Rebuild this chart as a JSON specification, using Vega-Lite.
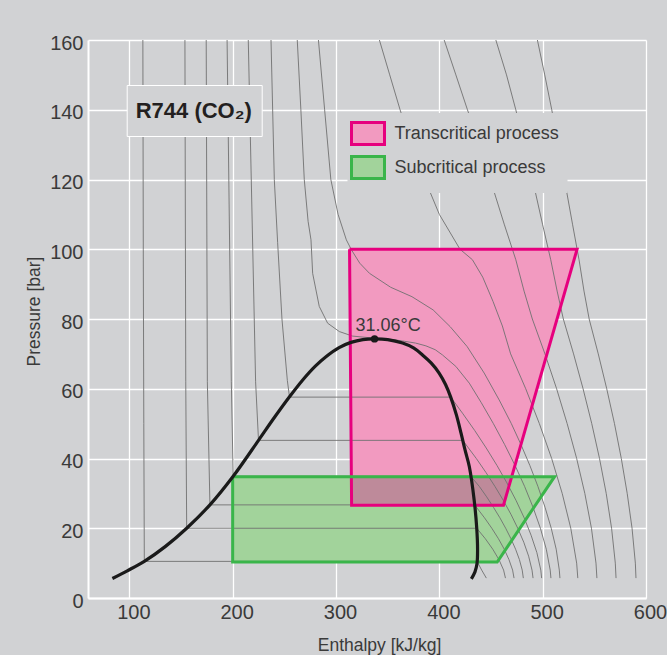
{
  "$schema": "https://vega.github.io/schema/vega-lite/v6.json",
  "width": 558,
  "height": 558,
  "autosize": {"type": "none"},
  "padding": {"left": 88, "top": 40, "right": 21, "bottom": 57},
  "background": "#d1d2d4",
  "config": {
    "view": {"stroke": null},
    "font": "Liberation Sans",
    "axis": {
      "grid": true, "gridColor": "white", "gridWidth": 1.3, "gridOpacity": 1,
      "domainColor": "white", "domainWidth": 2, "ticks": false,
      "labelFont": "Liberation Sans", "labelFontSize": 20, "labelColor": "#3a3a3a",
      "titleFont": "Liberation Sans", "titleFontSize": 17.5, "titleFontWeight": "normal", "titleColor": "#3a3a3a",
      "zindex": 1
    }
  },
  "datasets": {
    "poly": [
      {"proc": "Transcritical process", "i": 0, "h": 313.1, "p": 100},
      {"proc": "Transcritical process", "i": 1, "h": 533.3, "p": 100},
      {"proc": "Transcritical process", "i": 2, "h": 462.1, "p": 26.6},
      {"proc": "Transcritical process", "i": 3, "h": 315.1, "p": 26.6},
      {"proc": "Transcritical process", "i": 4, "h": 313.1, "p": 100},
      {"proc": "Subcritical process", "i": 0, "h": 200, "p": 34.8},
      {"proc": "Subcritical process", "i": 1, "h": 511.5, "p": 34.8},
      {"proc": "Subcritical process", "i": 2, "h": 456, "p": 10.3},
      {"proc": "Subcritical process", "i": 3, "h": 200, "p": 10.3},
      {"proc": "Subcritical process", "i": 4, "h": 200, "p": 34.8}
    ],
    "overlap": [
      {"i": 0, "h": 315.1, "p": 26.6},
      {"i": 1, "h": 462.1, "p": 26.6},
      {"i": 2, "h": 470, "p": 34.8},
      {"i": 3, "h": 314.9, "p": 34.8}
    ],
    "dome": [
      {"i": 0, "h": 83.6, "p": 5.6}, {"i": 1, "h": 98, "p": 7.8}, {"i": 2, "h": 114.5, "p": 10.5},
      {"i": 3, "h": 135, "p": 14.8}, {"i": 4, "h": 155.5, "p": 20}, {"i": 5, "h": 178, "p": 26.7},
      {"i": 6, "h": 200.5, "p": 34.9}, {"i": 7, "h": 225, "p": 45.2}, {"i": 8, "h": 240, "p": 51.6},
      {"i": 9, "h": 255, "p": 57.7}, {"i": 10, "h": 268, "p": 62.6}, {"i": 11, "h": 280, "p": 66.5},
      {"i": 12, "h": 290.3, "p": 69.2}, {"i": 13, "h": 303, "p": 71.8}, {"i": 14, "h": 314.5, "p": 73.3},
      {"i": 15, "h": 326, "p": 74.1}, {"i": 16, "h": 337.3, "p": 74.3}, {"i": 17, "h": 350, "p": 74.1},
      {"i": 18, "h": 364.4, "p": 73.1}, {"i": 19, "h": 375, "p": 71.7}, {"i": 20, "h": 383.7, "p": 69.7},
      {"i": 21, "h": 392, "p": 67.4}, {"i": 22, "h": 399.8, "p": 64.5}, {"i": 23, "h": 406, "p": 61.2},
      {"i": 24, "h": 411, "p": 57.6}, {"i": 25, "h": 416.5, "p": 52.5}, {"i": 26, "h": 421, "p": 47.3},
      {"i": 27, "h": 425, "p": 42.3}, {"i": 28, "h": 429, "p": 37.7}, {"i": 29, "h": 433.7, "p": 28.1},
      {"i": 30, "h": 436.2, "p": 20}, {"i": 31, "h": 437, "p": 14}, {"i": 32, "h": 436.5, "p": 10},
      {"i": 33, "h": 434.5, "p": 7.5}, {"i": 34, "h": 431, "p": 5.5}
    ],
    "iso": [
      {"T": -40, "i": 0, "h": 113.1, "p": 160}, {"T": -40, "i": 1, "h": 113.5, "p": 100}, {"T": -40, "i": 2, "h": 114, "p": 50},
      {"T": -40, "i": 3, "h": 114.5, "p": 10.5}, {"T": -40, "i": 4, "h": 436.5, "p": 10.5}, {"T": -40, "i": 5, "h": 441, "p": 8},
      {"T": -40, "i": 6, "h": 445.5, "p": 5.7},

      {"T": -20, "i": 0, "h": 153.8, "p": 160}, {"T": -20, "i": 1, "h": 154.6, "p": 62}, {"T": -20, "i": 2, "h": 155.5, "p": 20},
      {"T": -20, "i": 3, "h": 436.2, "p": 20}, {"T": -20, "i": 4, "h": 444.5, "p": 17}, {"T": -20, "i": 5, "h": 451.7, "p": 14},
      {"T": -20, "i": 6, "h": 457.7, "p": 11}, {"T": -20, "i": 7, "h": 462.2, "p": 8}, {"T": -20, "i": 8, "h": 464, "p": 5.7},

      {"T": -10, "i": 0, "h": 174.4, "p": 160}, {"T": -10, "i": 1, "h": 175.5, "p": 62}, {"T": -10, "i": 2, "h": 178, "p": 26.7},
      {"T": -10, "i": 3, "h": 434.1, "p": 26.7}, {"T": -10, "i": 4, "h": 443.7, "p": 23}, {"T": -10, "i": 5, "h": 450.8, "p": 20},
      {"T": -10, "i": 6, "h": 457.2, "p": 17}, {"T": -10, "i": 7, "h": 462.8, "p": 14}, {"T": -10, "i": 8, "h": 467.4, "p": 11},
      {"T": -10, "i": 9, "h": 470.9, "p": 8}, {"T": -10, "i": 10, "h": 472.3, "p": 5.7},

      {"T": 0, "i": 0, "h": 194.6, "p": 160}, {"T": 0, "i": 1, "h": 198.7, "p": 62}, {"T": 0, "i": 2, "h": 200.5, "p": 34.9},
      {"T": 0, "i": 3, "h": 430.4, "p": 34.9}, {"T": 0, "i": 4, "h": 438.7, "p": 32}, {"T": 0, "i": 5, "h": 445.8, "p": 29},
      {"T": 0, "i": 6, "h": 452.4, "p": 26}, {"T": 0, "i": 7, "h": 458.6, "p": 23}, {"T": 0, "i": 8, "h": 464.2, "p": 20},
      {"T": 0, "i": 9, "h": 469.3, "p": 17}, {"T": 0, "i": 10, "h": 473.8, "p": 14}, {"T": 0, "i": 11, "h": 477.5, "p": 11},
      {"T": 0, "i": 12, "h": 480.2, "p": 8}, {"T": 0, "i": 13, "h": 481.3, "p": 5.7},

      {"T": 10, "i": 0, "h": 215.1, "p": 160}, {"T": 10, "i": 1, "h": 222.2, "p": 62}, {"T": 10, "i": 2, "h": 225, "p": 45.2},
      {"T": 10, "i": 3, "h": 422.7, "p": 45.2}, {"T": 10, "i": 4, "h": 435.8, "p": 40}, {"T": 10, "i": 5, "h": 445.1, "p": 36},
      {"T": 10, "i": 6, "h": 453.8, "p": 32}, {"T": 10, "i": 7, "h": 461.9, "p": 28}, {"T": 10, "i": 8, "h": 469.3, "p": 24},
      {"T": 10, "i": 9, "h": 475.9, "p": 20}, {"T": 10, "i": 10, "h": 481.7, "p": 16}, {"T": 10, "i": 11, "h": 486.4, "p": 12},
      {"T": 10, "i": 12, "h": 489.7, "p": 8}, {"T": 10, "i": 13, "h": 490.7, "p": 5.7},

      {"T": 20, "i": 0, "h": 237.1, "p": 160}, {"T": 20, "i": 1, "h": 240.3, "p": 120}, {"T": 20, "i": 2, "h": 243.5, "p": 102},
      {"T": 20, "i": 3, "h": 247.7, "p": 80}, {"T": 20, "i": 4, "h": 252.9, "p": 62.4}, {"T": 20, "i": 5, "h": 255, "p": 57.6},
      {"T": 20, "i": 6, "h": 411, "p": 57.6}, {"T": 20, "i": 7, "h": 422.4, "p": 53}, {"T": 20, "i": 8, "h": 434.3, "p": 48},
      {"T": 20, "i": 9, "h": 445.4, "p": 43}, {"T": 20, "i": 10, "h": 455.8, "p": 38}, {"T": 20, "i": 11, "h": 465.4, "p": 33},
      {"T": 20, "i": 12, "h": 474.2, "p": 28}, {"T": 20, "i": 13, "h": 482.1, "p": 23}, {"T": 20, "i": 14, "h": 488.8, "p": 18},
      {"T": 20, "i": 15, "h": 494.4, "p": 13}, {"T": 20, "i": 16, "h": 498.2, "p": 8}, {"T": 20, "i": 17, "h": 499, "p": 5.7},

      {"T": 30, "i": 0, "h": 262.5, "p": 160}, {"T": 30, "i": 1, "h": 266, "p": 140}, {"T": 30, "i": 2, "h": 269.3, "p": 120},
      {"T": 30, "i": 3, "h": 273, "p": 108}, {"T": 30, "i": 4, "h": 275.8, "p": 102.7}, {"T": 30, "i": 5, "h": 277.4, "p": 93.1},
      {"T": 30, "i": 6, "h": 283.8, "p": 83.6}, {"T": 30, "i": 7, "h": 291.9, "p": 78.8}, {"T": 30, "i": 8, "h": 303.2, "p": 76.4},
      {"T": 30, "i": 9, "h": 316, "p": 75.1}, {"T": 30, "i": 10, "h": 330, "p": 74.7}, {"T": 30, "i": 11, "h": 342, "p": 74.4},
      {"T": 30, "i": 12, "h": 355, "p": 74.1}, {"T": 30, "i": 13, "h": 364.4, "p": 73.7}, {"T": 30, "i": 14, "h": 377, "p": 73.1},
      {"T": 30, "i": 15, "h": 387, "p": 72.3}, {"T": 30, "i": 16, "h": 396, "p": 71.2}, {"T": 30, "i": 17, "h": 403, "p": 69.7},
      {"T": 30, "i": 18, "h": 416, "p": 66.4}, {"T": 30, "i": 19, "h": 429, "p": 61.6}, {"T": 30, "i": 20, "h": 440.6, "p": 56},
      {"T": 30, "i": 21, "h": 452.3, "p": 50}, {"T": 30, "i": 22, "h": 463.2, "p": 44}, {"T": 30, "i": 23, "h": 473.3, "p": 38},
      {"T": 30, "i": 24, "h": 482.5, "p": 32}, {"T": 30, "i": 25, "h": 490.7, "p": 26}, {"T": 30, "i": 26, "h": 497.8, "p": 20},
      {"T": 30, "i": 27, "h": 503.5, "p": 14}, {"T": 30, "i": 28, "h": 507.3, "p": 8}, {"T": 30, "i": 29, "h": 508, "p": 5.7},

      {"T": 40, "i": 0, "h": 283, "p": 160}, {"T": 40, "i": 1, "h": 289, "p": 140}, {"T": 40, "i": 2, "h": 295, "p": 120},
      {"T": 40, "i": 3, "h": 302, "p": 110}, {"T": 40, "i": 4, "h": 310, "p": 102.7}, {"T": 40, "i": 5, "h": 315, "p": 99.8},
      {"T": 40, "i": 6, "h": 323, "p": 96}, {"T": 40, "i": 7, "h": 332.4, "p": 93.1}, {"T": 40, "i": 8, "h": 352.9, "p": 89.1},
      {"T": 40, "i": 9, "h": 373.5, "p": 86.4}, {"T": 40, "i": 10, "h": 394, "p": 82.6}, {"T": 40, "i": 11, "h": 410.5, "p": 77.8},
      {"T": 40, "i": 12, "h": 426.9, "p": 72.1}, {"T": 40, "i": 13, "h": 443.4, "p": 64.5}, {"T": 40, "i": 14, "h": 457.9, "p": 56.8},
      {"T": 40, "i": 15, "h": 469.7, "p": 50}, {"T": 40, "i": 16, "h": 479, "p": 44}, {"T": 40, "i": 17, "h": 487.6, "p": 38},
      {"T": 40, "i": 18, "h": 495.4, "p": 32}, {"T": 40, "i": 19, "h": 502.3, "p": 26}, {"T": 40, "i": 20, "h": 508.3, "p": 20},
      {"T": 40, "i": 21, "h": 513.1, "p": 14}, {"T": 40, "i": 22, "h": 516.1, "p": 8}, {"T": 40, "i": 23, "h": 516.7, "p": 5.7},

      {"T": 60, "i": 0, "h": 342, "p": 160}, {"T": 60, "i": 1, "h": 352, "p": 150}, {"T": 60, "i": 2, "h": 362, "p": 140},
      {"T": 60, "i": 3, "h": 373, "p": 130}, {"T": 60, "i": 4, "h": 386, "p": 120}, {"T": 60, "i": 5, "h": 400, "p": 110},
      {"T": 60, "i": 6, "h": 420, "p": 100}, {"T": 60, "i": 7, "h": 432, "p": 97}, {"T": 60, "i": 8, "h": 442, "p": 92},
      {"T": 60, "i": 9, "h": 452, "p": 85}, {"T": 60, "i": 10, "h": 461, "p": 78}, {"T": 60, "i": 11, "h": 469, "p": 70},
      {"T": 60, "i": 12, "h": 483.6, "p": 60}, {"T": 60, "i": 13, "h": 496.8, "p": 50}, {"T": 60, "i": 14, "h": 508.7, "p": 40},
      {"T": 60, "i": 15, "h": 518.9, "p": 30}, {"T": 60, "i": 16, "h": 527.2, "p": 20}, {"T": 60, "i": 17, "h": 532.9, "p": 10},
      {"T": 60, "i": 18, "h": 534, "p": 5.7},

      {"T": 80, "i": 0, "h": 404.7, "p": 160}, {"T": 80, "i": 1, "h": 416, "p": 150}, {"T": 80, "i": 2, "h": 427.2, "p": 140},
      {"T": 80, "i": 3, "h": 439, "p": 130}, {"T": 80, "i": 4, "h": 451.4, "p": 118}, {"T": 80, "i": 5, "h": 463, "p": 107},
      {"T": 80, "i": 6, "h": 474, "p": 97}, {"T": 80, "i": 7, "h": 482, "p": 88}, {"T": 80, "i": 8, "h": 490, "p": 80},
      {"T": 80, "i": 9, "h": 502.2, "p": 70}, {"T": 80, "i": 10, "h": 513.5, "p": 60}, {"T": 80, "i": 11, "h": 523.7, "p": 50},
      {"T": 80, "i": 12, "h": 532.9, "p": 40}, {"T": 80, "i": 13, "h": 540.8, "p": 30}, {"T": 80, "i": 14, "h": 547.2, "p": 20},
      {"T": 80, "i": 15, "h": 551.6, "p": 10}, {"T": 80, "i": 16, "h": 552.5, "p": 5.7},

      {"T": 100, "i": 0, "h": 454.7, "p": 160}, {"T": 100, "i": 1, "h": 465, "p": 150}, {"T": 100, "i": 2, "h": 474, "p": 140},
      {"T": 100, "i": 3, "h": 483, "p": 129}, {"T": 100, "i": 4, "h": 491.7, "p": 118}, {"T": 100, "i": 5, "h": 500, "p": 107},
      {"T": 100, "i": 6, "h": 507.8, "p": 97}, {"T": 100, "i": 7, "h": 514, "p": 88}, {"T": 100, "i": 8, "h": 520, "p": 80},
      {"T": 100, "i": 9, "h": 529.9, "p": 70}, {"T": 100, "i": 10, "h": 539.1, "p": 60}, {"T": 100, "i": 11, "h": 547.5, "p": 50},
      {"T": 100, "i": 12, "h": 555, "p": 40}, {"T": 100, "i": 13, "h": 561.5, "p": 30}, {"T": 100, "i": 14, "h": 566.7, "p": 20},
      {"T": 100, "i": 15, "h": 570.3, "p": 10}, {"T": 100, "i": 16, "h": 571, "p": 5.7},

      {"T": 120, "i": 0, "h": 494.9, "p": 160}, {"T": 120, "i": 1, "h": 502, "p": 150}, {"T": 120, "i": 2, "h": 508.8, "p": 140},
      {"T": 120, "i": 3, "h": 515.5, "p": 129}, {"T": 120, "i": 4, "h": 522.3, "p": 118}, {"T": 120, "i": 5, "h": 529, "p": 107},
      {"T": 120, "i": 6, "h": 535.2, "p": 97}, {"T": 120, "i": 7, "h": 540, "p": 88}, {"T": 120, "i": 8, "h": 545, "p": 80},
      {"T": 120, "i": 9, "h": 553.8, "p": 70}, {"T": 120, "i": 10, "h": 562, "p": 60}, {"T": 120, "i": 11, "h": 569.5, "p": 50},
      {"T": 120, "i": 12, "h": 576.1, "p": 40}, {"T": 120, "i": 13, "h": 581.8, "p": 30}, {"T": 120, "i": 14, "h": 586.5, "p": 20},
      {"T": 120, "i": 15, "h": 589.7, "p": 10}, {"T": 120, "i": 16, "h": 590.3, "p": 5.7}
    ],
    "crit": [{"h": 337.3, "p": 74.3, "label": "31.06°C", "name": "R744 (CO₂)"}]
  },
  "encoding": {
    "x": {
      "field": "h", "type": "quantitative",
      "scale": {"domain": [60, 600], "nice": false, "zero": false},
      "axis": {
        "values": [100, 200, 300, 400, 500, 600], "title": "Enthalpy [kJ/kg]",
        "labelPadding": 4, "labelOffset": 4, "labelFlush": false,
        "titleX": 291, "titleY": 52, "titleAlign": "center", "titleBaseline": "alphabetic"
      }
    },
    "y": {
      "field": "p", "type": "quantitative",
      "scale": {"domain": [0, 160], "nice": false, "zero": false},
      "axis": {
        "values": [0, 20, 40, 60, 80, 100, 120, 140, 160], "title": "Pressure [bar]",
        "labelPadding": 5, "labelOffset": 3, "labelFlush": false,
        "titleX": -54, "titleY": 271, "titleAngle": -90, "titleAlign": "center", "titleBaseline": "middle"
      }
    }
  },
  "layer": [
    {
      "data": {"name": "poly"},
      "mark": {"type": "line", "strokeWidth": 0},
      "encoding": {
        "order": {"field": "i", "type": "quantitative"},
        "fill": {
          "field": "proc", "type": "nominal",
          "scale": {"domain": ["Transcritical process", "Subcritical process"], "range": ["#f29ac0", "#a2d39b"]},
          "legend": {
            "orient": "none", "legendX": 259.5, "legendY": 73, "title": null, "padding": 8,
            "symbolType": "M-1.5,-1H1.5V1H-1.5Z", "symbolSize": 484, "symbolStrokeWidth": 3,
            "labelFont": "Liberation Sans", "labelFontSize": 18, "labelColor": "#3a3a3a", "labelLimit": 400,
            "labelOffset": 14, "rowPadding": -1, "fillColor": "#d1d2d4", "zindex": 2
          }
        },
        "stroke": {
          "field": "proc", "type": "nominal",
          "scale": {"domain": ["Transcritical process", "Subcritical process"], "range": ["#e6007e", "#3ab54a"]},
          "legend": {
            "orient": "none", "legendX": 259.5, "legendY": 73, "title": null, "padding": 8,
            "symbolType": "M-1.5,-1H1.5V1H-1.5Z", "symbolSize": 484, "symbolStrokeWidth": 3,
            "labelFont": "Liberation Sans", "labelFontSize": 18, "labelColor": "#3a3a3a", "labelLimit": 400,
            "labelOffset": 14, "rowPadding": -1, "fillColor": "#d1d2d4", "zindex": 2
          }
        }
      }
    },
    {
      "data": {"name": "overlap"},
      "mark": {"type": "line", "fill": "#be8a9a", "strokeWidth": 0},
      "encoding": {"order": {"field": "i", "type": "quantitative"}}
    },
    {
      "data": {"name": "iso"},
      "mark": {"type": "line", "stroke": "#707070", "strokeWidth": 0.9},
      "encoding": {
        "detail": {"field": "T", "type": "nominal"},
        "order": {"field": "i", "type": "quantitative"}
      }
    },
    {
      "data": {"name": "poly"},
      "transform": [{"filter": "datum.proc === 'Transcritical process'"}],
      "mark": {"type": "line", "stroke": "#e6007e", "strokeWidth": 3, "strokeJoin": "miter"},
      "encoding": {"order": {"field": "i", "type": "quantitative"}}
    },
    {
      "data": {"name": "poly"},
      "transform": [{"filter": "datum.proc === 'Subcritical process'"}],
      "mark": {"type": "line", "stroke": "#3ab54a", "strokeWidth": 3, "strokeJoin": "miter"},
      "encoding": {"order": {"field": "i", "type": "quantitative"}}
    },
    {
      "data": {"name": "dome"},
      "mark": {"type": "line", "stroke": "#1a1a1a", "strokeWidth": 3.2, "interpolate": "catmull-rom"},
      "encoding": {"order": {"field": "i", "type": "quantitative"}}
    },
    {
      "data": {"name": "crit"},
      "mark": {"type": "point", "filled": true, "color": "#1a1a1a", "size": 55, "opacity": 1},
      "encoding": {
        "shape": {
          "field": "name", "type": "nominal",
          "scale": {"range": ["circle"]},
          "legend": {
            "orient": "none", "legendX": 38.7, "legendY": 45, "title": null, "padding": 9,
            "symbolType": "M-1,-1L-1,1", "symbolSize": 1089, "symbolOpacity": 0, "symbolStrokeWidth": 0,
            "labelOffset": -33, "labelFont": "Liberation Sans", "labelFontSize": 22, "labelFontWeight": "bold",
            "labelColor": "#231f20", "fillColor": "#d1d2d4", "strokeColor": "white", "zindex": 2,
            "encode": {"legend": {"update": {"strokeWidth": {"value": 2}}}}
          }
        }
      }
    },
    {
      "data": {"name": "crit"},
      "mark": {"type": "text", "align": "center", "baseline": "alphabetic", "dx": 13.5, "dy": -8, "fontSize": 18, "font": "Liberation Sans", "color": "#3a3a3a"},
      "encoding": {"text": {"field": "label"}}
    }
  ]
}
